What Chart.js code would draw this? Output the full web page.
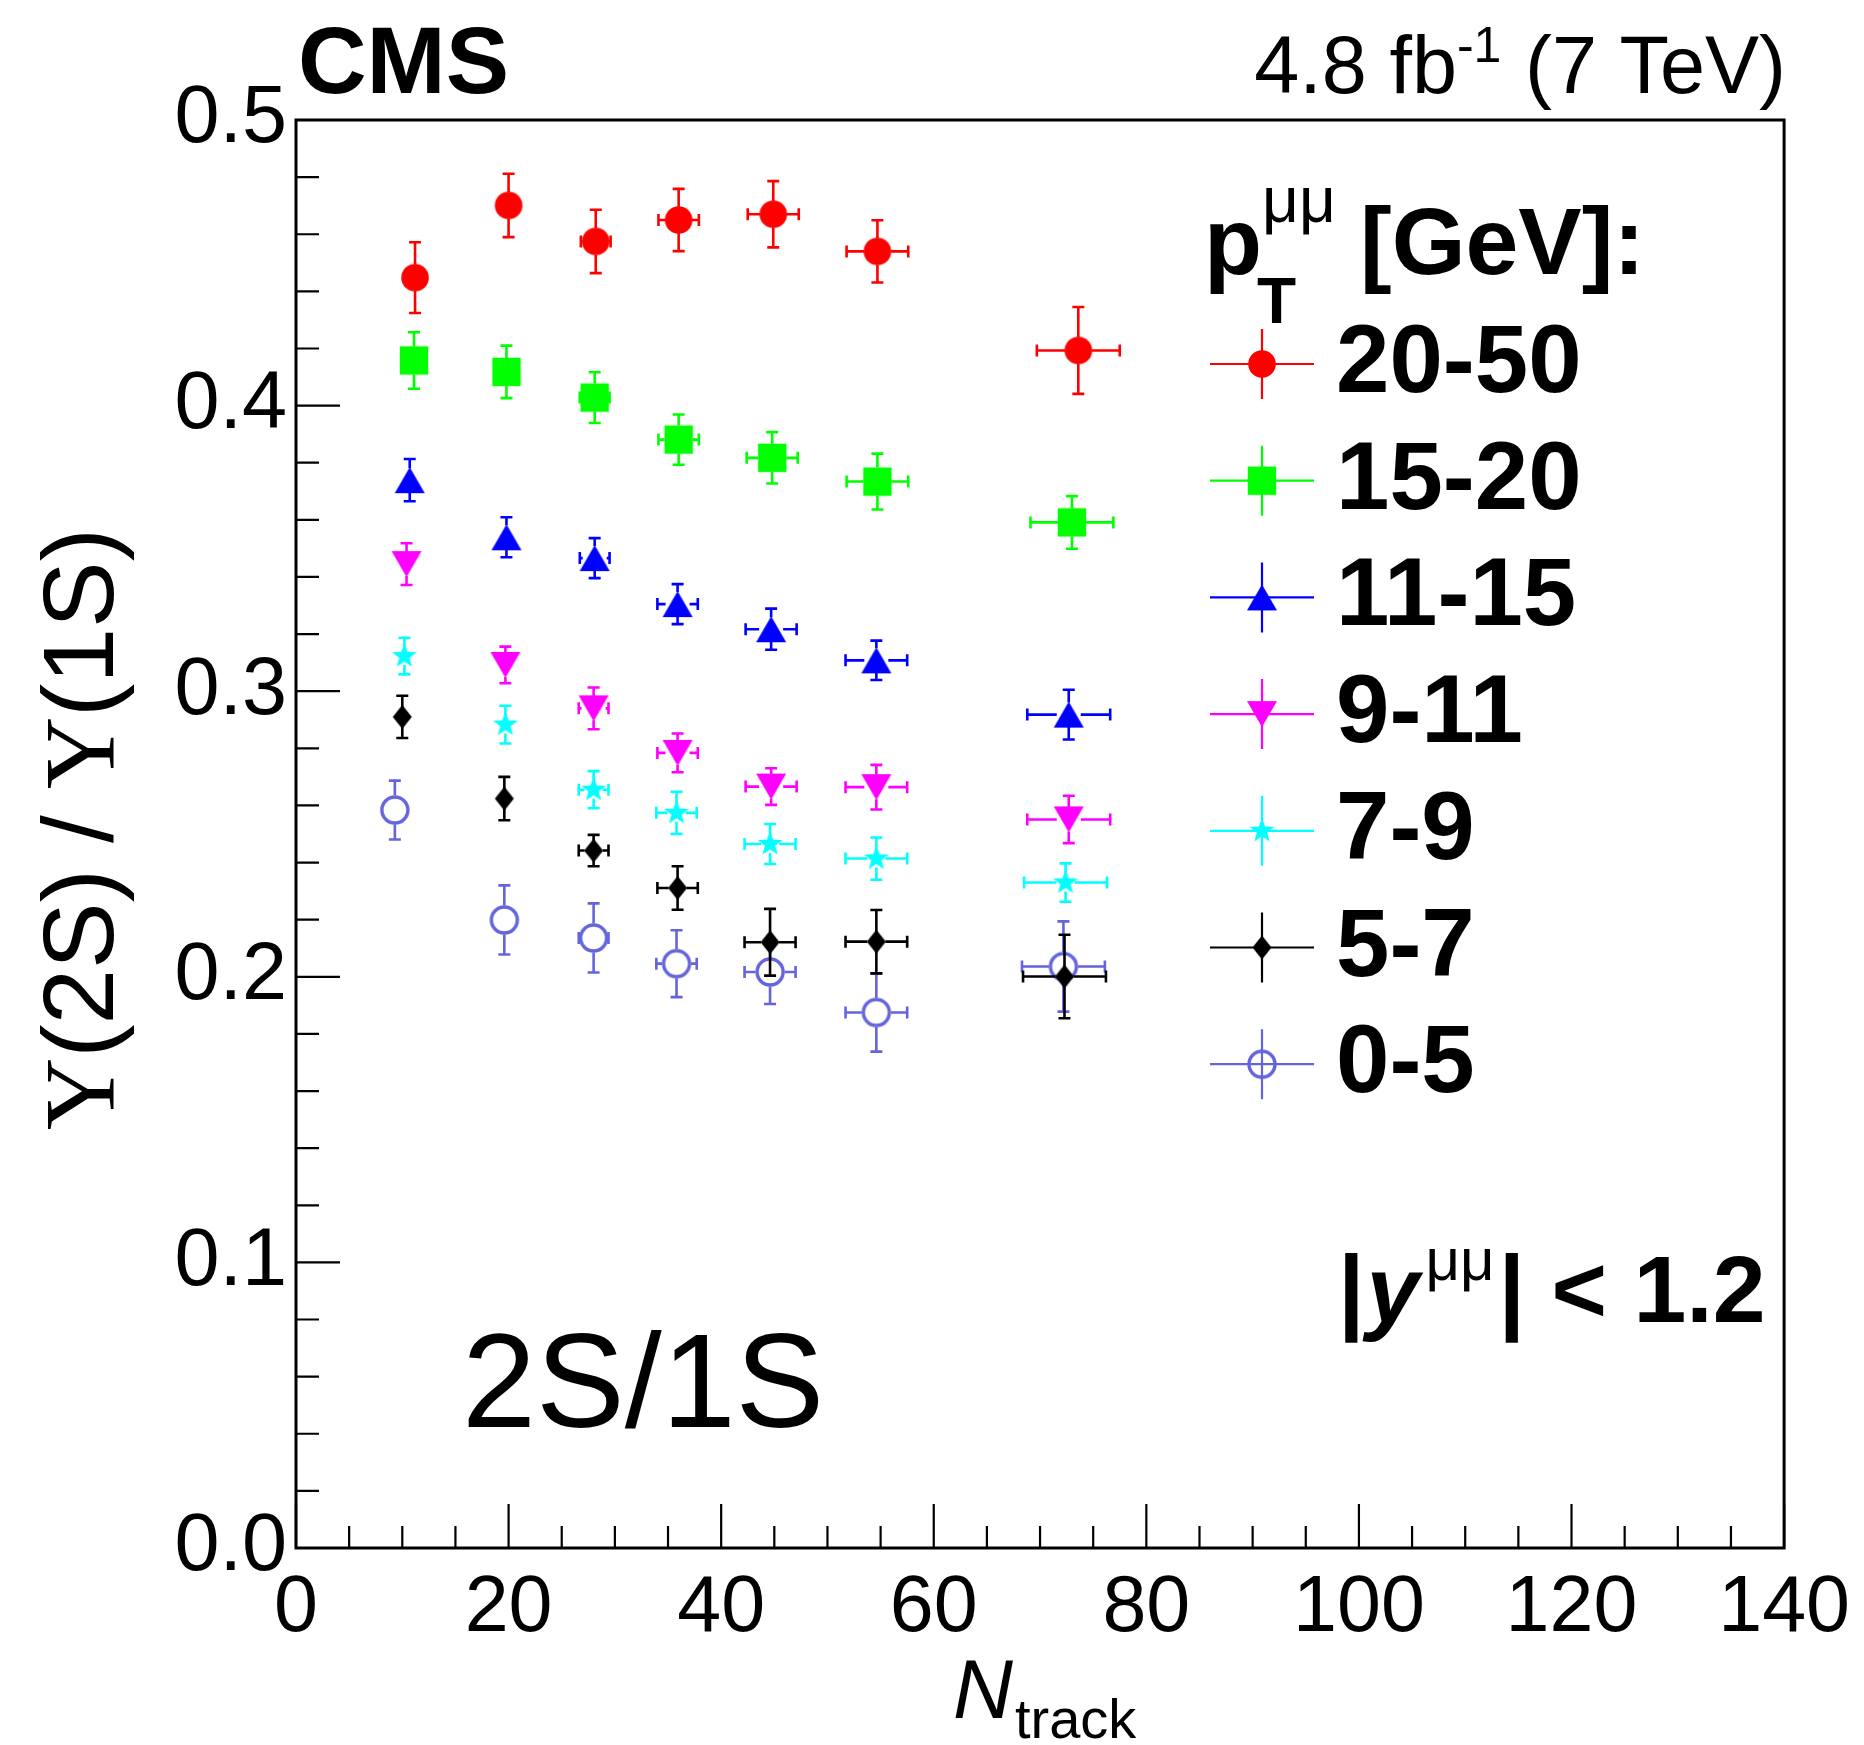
<!DOCTYPE html>
<html>
<head>
<meta charset="utf-8">
<script src="https://cdn.jsdelivr.net/npm/chart.js@4.4.1/dist/chart.umd.min.js"></script>
<style>
  html, body { margin: 0; padding: 0; background: #ffffff; }
  canvas { display: block; }
</style>
</head>
<body>
<canvas id="ratio" width="1864" height="1745"></canvas>
<script>
// pT bins (legend order)
const ptBins = ["20-50", "15-20", "11-15", "9-11", "7-9", "5-7", "0-5"];

// mean Ntrack of each point, per pT bin
const nTrack_20_50 = [11.2, 20.0, 28.2, 36.0, 44.9, 54.7, 73.6];
const nTrack_15_20 = [11.1, 19.8, 28.1, 36.0, 44.8, 54.7, 73.0];
const nTrack_11_15 = [10.7, 19.8, 28.1, 35.9, 44.7, 54.6, 72.7];
const nTrack_9_11 = [10.4, 19.7, 28.0, 35.9, 44.7, 54.6, 72.7];
const nTrack_7_9 = [10.2, 19.7, 28.0, 35.8, 44.6, 54.6, 72.4];
const nTrack_5_7 = [10.0, 19.6, 28.0, 35.9, 44.6, 54.6, 72.3];
const nTrack_0_5 = [9.3, 19.6, 28.0, 35.8, 44.6, 54.6, 72.2];

// horizontal half-width of each Ntrack bin
const nTrackErr = [0.5, 0.8, 1.4, 1.9, 2.4, 2.9, 3.9];

// Y(2S)/Y(1S) ratio
const ratio_20_50 = [0.4448, 0.4701, 0.4575, 0.4650, 0.4670, 0.4540, 0.4193];
const ratio_15_20 = [0.4158, 0.4118, 0.4028, 0.3881, 0.3817, 0.3734, 0.3591];
const ratio_11_15 = [0.3739, 0.3539, 0.3466, 0.3305, 0.3217, 0.3108, 0.2918];
const ratio_9_11 = [0.3445, 0.3092, 0.2940, 0.2784, 0.2666, 0.2664, 0.2551];
const ratio_7_9 = [0.3123, 0.2883, 0.2655, 0.2574, 0.2465, 0.2414, 0.2330];
const ratio_5_7 = [0.2910, 0.2624, 0.2442, 0.2311, 0.2121, 0.2123, 0.2001];
const ratio_0_5 = [0.2584, 0.2199, 0.2136, 0.2046, 0.2017, 0.1875, 0.2036];

// total vertical uncertainty
const err_20_50 = [0.0124, 0.0111, 0.0111, 0.0109, 0.0116, 0.0109, 0.0152];
const err_15_20 = [0.0099, 0.0092, 0.0089, 0.0088, 0.0090, 0.0098, 0.0092];
const err_11_15 = [0.0074, 0.0070, 0.0070, 0.0070, 0.0072, 0.0069, 0.0087];
const err_9_11 = [0.0073, 0.0064, 0.0073, 0.0068, 0.0064, 0.0078, 0.0083];
const err_7_9 = [0.0064, 0.0066, 0.0065, 0.0074, 0.0070, 0.0074, 0.0067];
const err_5_7 = [0.0074, 0.0076, 0.0055, 0.0076, 0.0117, 0.0111, 0.0146];
const err_0_5 = [0.0103, 0.0121, 0.0121, 0.0117, 0.0112, 0.0137, 0.0158];

const xTickLabels = ["0", "20", "40", "60", "80", "100", "120", "140"];
const yTickLabels = ["0.0", "0.1", "0.2", "0.3", "0.4", "0.5"];

const FONT = "'Liberation Sans', Arial, Helvetica, sans-serif";
const SERIF = "'Liberation Serif', 'Times New Roman', serif";

// ROOT-like marker shapes drawn into small canvases
function marker(kind, color) {
  const c = document.createElement("canvas");
  c.width = 36; c.height = 36;
  const g = c.getContext("2d");
  const m = 18;
  g.fillStyle = color; g.strokeStyle = color;
  g.beginPath();
  if (kind === "circle") {
    g.arc(m, m, 13.8, 0, Math.PI * 2); g.fill();
  } else if (kind === "square") {
    g.fillRect(m - 14.2, m - 14.2, 28.4, 28.4);
  } else if (kind === "up") {
    g.moveTo(m - 15, m + 13); g.lineTo(m + 15, m + 13); g.lineTo(m, m - 13); g.closePath(); g.fill();
  } else if (kind === "down") {
    g.moveTo(m - 15, m - 13); g.lineTo(m + 15, m - 13); g.lineTo(m, m + 13); g.closePath(); g.fill();
  } else if (kind === "star") {
    for (let k = 0; k < 10; k++) {
      const r = k % 2 === 0 ? 13 : 5.4;
      const a = -Math.PI / 2 + k * Math.PI / 5;
      const px = m + r * Math.cos(a), py = m + r * Math.sin(a);
      if (k === 0) g.moveTo(px, py); else g.lineTo(px, py);
    }
    g.closePath(); g.fill();
  } else if (kind === "diamond") {
    g.moveTo(m, m - 12); g.lineTo(m + 9.5, m); g.lineTo(m, m + 12); g.lineTo(m - 9.5, m); g.closePath(); g.fill();
  } else if (kind === "open") {
    g.lineWidth = 3.4; g.arc(m, m, 13, 0, Math.PI * 2); g.stroke();
  }
  return c;
}

const seriesX = [nTrack_20_50, nTrack_15_20, nTrack_11_15, nTrack_9_11, nTrack_7_9, nTrack_5_7, nTrack_0_5];
const seriesY = [ratio_20_50, ratio_15_20, ratio_11_15, ratio_9_11, ratio_7_9, ratio_5_7, ratio_0_5];
const seriesE = [err_20_50, err_15_20, err_11_15, err_9_11, err_7_9, err_5_7, err_0_5];
const colors = ["#ff0000", "#00ff00", "#0000ff", "#ff00ff", "#00ffff", "#000000", "#6464dc"];
const shapes = ["circle", "square", "up", "down", "star", "diamond", "open"];
const gaps = [13, 14, 12, 12, 9, 9, 14.5];

const datasets = ptBins.map((label, s) => ({
  label: label,
  data: seriesX[s].map((x, i) => ({ x: x, y: seriesY[s][i], xe: nTrackErr[i], ye: seriesE[s][i] })),
  borderColor: colors[s],
  backgroundColor: colors[s],
  pointStyle: marker(shapes[s], colors[s]),
  pointRadius: 14,
  showLine: false,
  gap: gaps[s]
}));

// error bars with end caps, drawn under each dataset's markers
const errorBars = {
  id: "errorBars",
  beforeDatasetDraw(chart, args) {
    const ds = chart.data.datasets[args.index];
    const xs = chart.scales.x, ys = chart.scales.y, ctx = chart.ctx;
    const cap = 6;
    ctx.save();
    ctx.strokeStyle = ds.borderColor;
    ctx.lineWidth = 2.6;
    ds.data.forEach(d => {
      const px = xs.getPixelForValue(d.x), py = ys.getPixelForValue(d.y);
      const up = py - ys.getPixelForValue(d.y + d.ye);
      const dn = ys.getPixelForValue(d.y - d.ye) - py;
      const lf = px - xs.getPixelForValue(d.x - d.xe);
      const rt = xs.getPixelForValue(d.x + d.xe) - px;
      ctx.beginPath();
      if (up > ds.gap) { ctx.moveTo(px, py - ds.gap); ctx.lineTo(px, py - up); ctx.moveTo(px - cap, py - up); ctx.lineTo(px + cap, py - up); }
      if (dn > ds.gap) { ctx.moveTo(px, py + ds.gap); ctx.lineTo(px, py + dn); ctx.moveTo(px - cap, py + dn); ctx.lineTo(px + cap, py + dn); }
      if (lf > ds.gap) { ctx.moveTo(px - ds.gap, py); ctx.lineTo(px - lf, py); ctx.moveTo(px - lf, py - cap); ctx.lineTo(px - lf, py + cap); }
      if (rt > ds.gap) { ctx.moveTo(px + ds.gap, py); ctx.lineTo(px + rt, py); ctx.moveTo(px + rt, py - cap); ctx.lineTo(px + rt, py + cap); }
      ctx.stroke();
    });
    ctx.restore();
  }
};

// frame and inward tick marks (major ticks longer)
const frame = {
  id: "frame",
  beforeDatasetsDraw(chart) {
    const { ctx, chartArea: a } = chart;
    const xs = chart.scales.x, ys = chart.scales.y;
    ctx.save();
    ctx.strokeStyle = "#000";
    ctx.lineWidth = 2.2;
    ctx.beginPath();
    xs.ticks.forEach(t => {
      const p = xs.getPixelForValue(t.value);
      const len = t.major ? 44 : 22;
      ctx.moveTo(p, a.bottom); ctx.lineTo(p, a.bottom - len);
    });
    ys.ticks.forEach(t => {
      const p = ys.getPixelForValue(t.value);
      const len = t.major ? 44 : 23;
      ctx.moveTo(a.left, p); ctx.lineTo(a.left + len, p);
    });
    ctx.stroke();
    ctx.lineWidth = 3;
    ctx.strokeRect(a.left, a.top, a.right - a.left, a.bottom - a.top);
    ctx.restore();
  }
};

function run(ctx, pieces, x, y) {
  pieces.forEach(p => {
    ctx.font = p.font;
    ctx.fillText(p.t, x, y + (p.dy || 0));
    x += ctx.measureText(p.t).width + (p.gapAfter || 0);
  });
  return x;
}
function runWidth(ctx, pieces) {
  let w = 0;
  pieces.forEach(p => { ctx.font = p.font; w += ctx.measureText(p.t).width + (p.gapAfter || 0); });
  return w;
}

const texts = {
  id: "texts",
  afterDraw(chart) {
    const ctx = chart.ctx;
    ctx.save();
    ctx.fillStyle = "#000";
    ctx.textBaseline = "alphabetic";
    ctx.textAlign = "left";

    // header
    ctx.font = "bold 95px " + FONT;
    ctx.fillText("CMS", 298, 93);
    const lumi = [
      { t: "4.8 fb", font: "81px " + FONT },
      { t: "-1", font: "50px " + FONT, dy: -31, gapAfter: 1 },
      { t: " (7 TeV)", font: "81px " + FONT }
    ];
    run(ctx, lumi, 1786 - runWidth(ctx, lumi), 93);

    // legend title
    ctx.font = "bold 95px " + FONT;
    ctx.fillText("p", 1204, 274);
    ctx.font = "bold 64px " + FONT;
    ctx.fillText("T", 1257, 323);
    ctx.font = "64px " + FONT;
    ctx.fillText("\u03bc\u03bc", 1262, 222);
    ctx.font = "bold 95px " + FONT;
    ctx.fillText("[GeV]:", 1360, 274);

    // legend entries
    chart.data.datasets.forEach((ds, i) => {
      const cy = 364 + i * 116.7;
      ctx.save();
      ctx.strokeStyle = ds.borderColor;
      ctx.lineWidth = 2.2;
      ctx.beginPath();
      ctx.moveTo(1210, cy); ctx.lineTo(1314, cy);
      ctx.moveTo(1262, cy - 35); ctx.lineTo(1262, cy + 35);
      ctx.stroke();
      const img = ds.pointStyle;
      ctx.drawImage(img, 1262 - img.width / 2, cy - img.height / 2);
      ctx.restore();
      ctx.font = "bold 96px " + FONT;
      ctx.fillText(ds.label, 1336, cy + 28);
    });

    // rapidity cut
    run(ctx, [
      { t: "|", font: "bold 95px " + FONT, gapAfter: 2 },
      { t: "y", font: "italic bold 95px " + FONT, gapAfter: 6 },
      { t: "\u03bc\u03bc", font: "60px " + FONT, dy: -42, gapAfter: 4 },
      { t: "|", font: "bold 95px " + FONT },
      { t: " < 1.2", font: "bold 95px " + FONT }
    ], 1338, 1322);

    // 2S/1S label
    ctx.font = "133px " + FONT;
    ctx.fillText("2S/1S", 462, 1427);

    // x title
    const xt = [
      { t: "N", font: "italic 83px " + FONT, gapAfter: 2 },
      { t: "track", font: "56px " + FONT, dy: 20 }
    ];
    run(ctx, xt, 953, 1718);

    // y title (rotated)
    const yt = [
      { t: "\u03a5", font: "100px " + SERIF },
      { t: "(2S)", font: "100px " + FONT, gapAfter: 26 },
      { t: "/", font: "100px " + FONT, gapAfter: 26 },
      { t: "\u03a5", font: "100px " + SERIF },
      { t: "(1S)", font: "100px " + FONT }
    ];
    ctx.translate(113, 829);
    ctx.rotate(-Math.PI / 2);
    run(ctx, yt, -runWidth(ctx, yt) / 2, 0);
    ctx.restore();
  }
};

new Chart(document.getElementById("ratio"), {
  type: "scatter",
  data: { datasets: datasets },
  plugins: [errorBars, frame, texts],
  options: {
    responsive: false,
    animation: false,
    layout: { padding: { top: 120, right: 78, left: 0, bottom: 0 } },
    plugins: { legend: { display: false }, tooltip: { enabled: false } },
    scales: {
      x: {
        type: "linear",
        min: 0, max: 140,
        afterFit(scale) { scale.height = 197; },
        afterBuildTicks(scale) {
          const t = [];
          for (let v = 0; v <= 140; v += 5) t.push({ value: v, major: v % 20 === 0 });
          scale.ticks = t;
        },
        grid: { display: false, drawTicks: false },
        border: { display: false },
        ticks: {
          autoSkip: false, maxRotation: 0, padding: 14, color: "#000",
          font: { family: FONT, size: 79 },
          callback: (v) => (v % 20 === 0 ? xTickLabels[v / 20] : "")
        }
      },
      y: {
        type: "linear",
        min: 0, max: 0.5,
        afterFit(scale) { scale.width = 296; },
        afterBuildTicks(scale) {
          const t = [];
          for (let k = 0; k <= 25; k++) t.push({ value: k * 0.02, major: k % 5 === 0 });
          scale.ticks = t;
        },
        grid: { display: false, drawTicks: false },
        border: { display: false },
        ticks: {
          autoSkip: false, padding: 9, color: "#000",
          font: { family: FONT, size: 81 },
          callback: (v) => {
            const k = Math.round(v * 50);
            return k % 5 === 0 ? yTickLabels[k / 5] : "";
          }
        }
      }
    }
  }
});
</script>
</body>
</html>
